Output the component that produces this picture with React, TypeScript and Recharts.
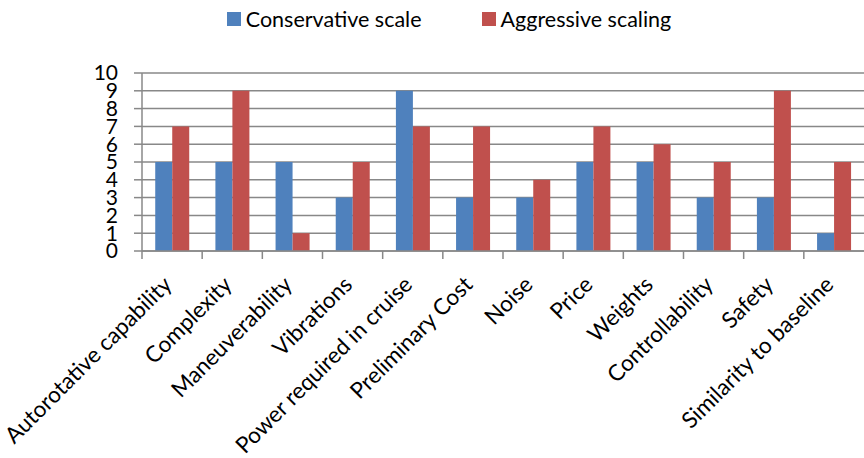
import { BarChart, Bar, XAxis, YAxis, CartesianGrid, Legend } from 'recharts';

// Criteria along the x axis
const criteria = [
    'Autorotative capability',
    'Complexity',
    'Maneuverability',
    'Vibrations',
    'Power required in cruise',
    'Preliminary Cost',
    'Noise',
    'Price',
    'Weights',
    'Controllability',
    'Safety',
    'Similarity to baseline',
];

// Scores for each scaling approach
const conservative = [5, 5, 5, 3, 9, 3, 3, 5, 5, 3, 3, 1];
const aggressive = [7, 9, 1, 5, 7, 7, 4, 7, 6, 5, 9, 5];

const yTicks = [0, 1, 2, 3, 4, 5, 6, 7, 8, 9, 10];

const SERIES = [
    { key: 'conservative', name: 'Conservative scale', color: '#4F81BD' },
    { key: 'aggressive', name: 'Aggressive scaling', color: '#C0504D' },
];

const data = criteria.map((name, i) => ({
    name,
    conservative: conservative[i],
    aggressive: aggressive[i],
}));

const FONT = 'Lato, "Open Sans", sans-serif';
const GRID = '#888888';

// Category label rotated 45deg, plus a tick mark on the left category boundary
const CategoryTick = (props: any) => {
    const { x, y, payload, visibleTicksCount } = props;
    const band = 722 / (visibleTicksCount || 12);
    const bx = x - band / 2;
    const lx = x + 1;
    const ly = y + 27;
    return (
        <g>
            <line x1={bx} y1={y - 8} x2={bx} y2={y} stroke={GRID} strokeWidth={1.5} />
            <text
                x={lx}
                y={ly}
                textAnchor="end"
                transform={`rotate(-45, ${lx}, ${ly})`}
                fontFamily={FONT}
                fontSize={22.5}
                fill="#000"
            >
                {payload.value}
            </text>
        </g>
    );
};

const LegendContent = () => (
    <div
        style={{
            height: 36,
            display: 'flex',
            justifyContent: 'center',
            alignItems: 'flex-start',
            gap: 60,
            fontFamily: FONT,
            fontSize: 21.5,
            paddingTop: 6,
            paddingLeft: 34,
            boxSizing: 'border-box',
        }}
    >
        {SERIES.map((s) => (
            <div key={s.key} style={{ display: 'flex', alignItems: 'center', gap: 5 }}>
                <div style={{ width: 14, height: 14, background: s.color }} />
                <span>{s.name}</span>
            </div>
        ))}
    </div>
);

export default function App() {
    return (
        <div style={{ position: 'absolute', left: 0, top: 0, background: '#fff' }}>
            <BarChart
                width={864}
                height={458}
                data={data}
                margin={{ top: 37, right: 0, bottom: 0, left: 0 }}
                barCategoryGap="22%"
                barGap={0}
            >
                <CartesianGrid vertical={false} stroke={GRID} strokeWidth={1.5} />
                <Legend verticalAlign="top" content={<LegendContent />} wrapperStyle={{ top: 0 }} />
                <XAxis
                    dataKey="name"
                    interval={0}
                    height={207}
                    tick={<CategoryTick />}
                    tickLine={false}
                    axisLine={{ stroke: GRID, strokeWidth: 1.5 }}
                />
                <YAxis
                    domain={[0, 10]}
                    ticks={yTicks}
                    interval={0}
                    width={142}
                    tickSize={8}
                    tickMargin={16}
                    tickLine={{ stroke: GRID, strokeWidth: 1.5 }}
                    axisLine={{ stroke: GRID, strokeWidth: 1.5 }}
                    tick={{ fill: '#000', fontSize: 21, fontFamily: FONT }}
                />
                {SERIES.map((s) => (
                    <Bar
                        key={s.key}
                        dataKey={s.key}
                        name={s.name}
                        fill={s.color}
                        isAnimationActive={false}
                    />
                ))}
            </BarChart>
        </div>
    );
}
